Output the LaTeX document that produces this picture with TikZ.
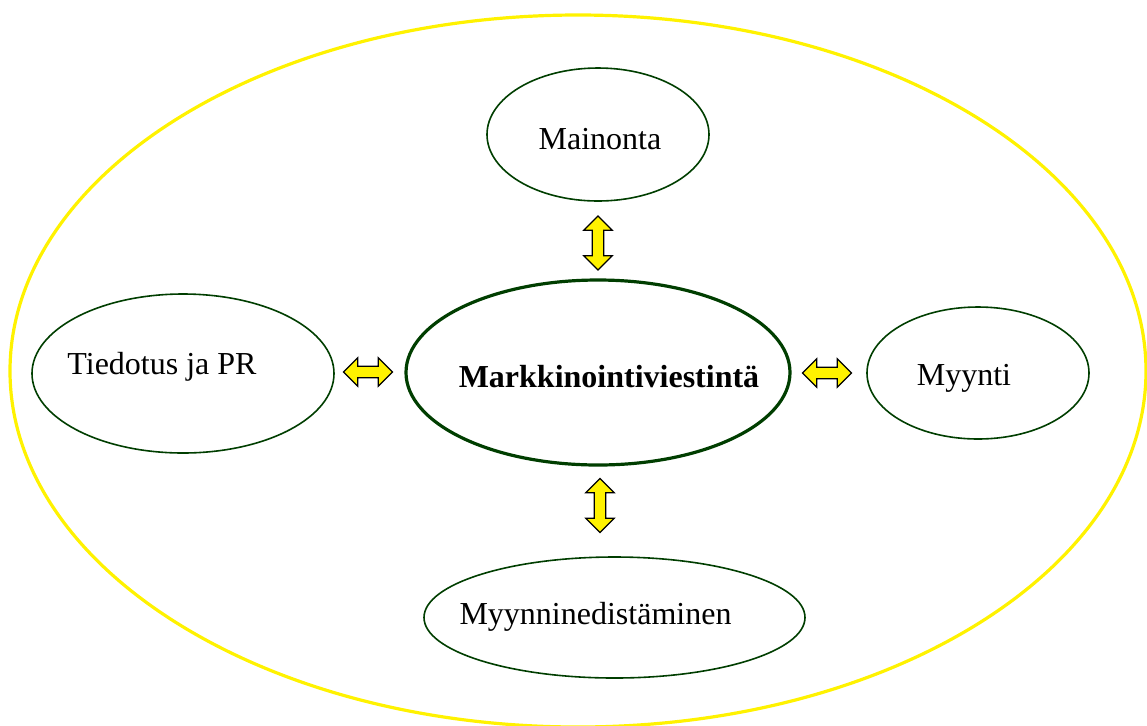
\documentclass[tikz,border=0pt]{standalone}
\usepackage{fontspec}
\setmainfont{Liberation Serif}
\usetikzlibrary{shapes.geometric,shapes.arrows}
\definecolor{rim}{RGB}{0,62,0}

\tikzset{
  area/.style={ellipse, draw=rim, line width=0.8pt, inner sep=0pt},
  core/.style={area, line width=1.6pt},
  swap arrow/.style={double arrow, draw=black, fill=yellow, line width=0.6pt,
    inner sep=2.6pt, double arrow head extend=4.2pt, minimum height=24.5pt},
  lbl/.style={font=\fontsize{16}{19}\selectfont}
}

\begin{document}
\begin{tikzpicture}[x=0.5pt,y=-0.5pt]
  \useasboundingbox (0,0) rectangle (1147,725);
  % outer frame
  \draw[yellow, line width=1.6pt] (578,371) ellipse (568 and 356);

  \node (markk) [core, minimum width=192pt, minimum height=92.5pt,
    label={[lbl, font=\fontsize{16}{19}\selectfont\bfseries, shift={(11,4)}]center:Markkinointiviestintä}]
    at (598,372.5) {};
  \node (mainonta) [area, minimum width=111pt, minimum height=66.5pt,
    label={[lbl, shift={(2,5)}]center:Mainonta}] at (598,134.5) {};
  \node (tiedotus) [area, minimum width=151pt, minimum height=79.5pt,
    label={[lbl, shift={(-21,-7)}]center:Tiedotus ja PR}] at (183,373.5) {};
  \node (myynti) [area, minimum width=111pt, minimum height=66pt,
    label={[lbl, shift={(-14,5)}]center:Myynti}] at (978,373) {};
  \node (myynn) [area, minimum width=190.5pt, minimum height=60.5pt,
    label={[lbl, shift={(-19,-1)}]center:Myynninedistäminen}] at (614.5,617.5) {};

  % arrows between the areas
  \node (a1) [swap arrow, rotate=90, minimum height=27pt] at (598,243) {};
  \node (a2) [swap arrow] at (368,372) {};
  \node (a3) [swap arrow] at (827,373) {};
  \node (a4) [swap arrow, rotate=90, minimum height=27pt] at (600,505.5) {};
\end{tikzpicture}
\end{document}
